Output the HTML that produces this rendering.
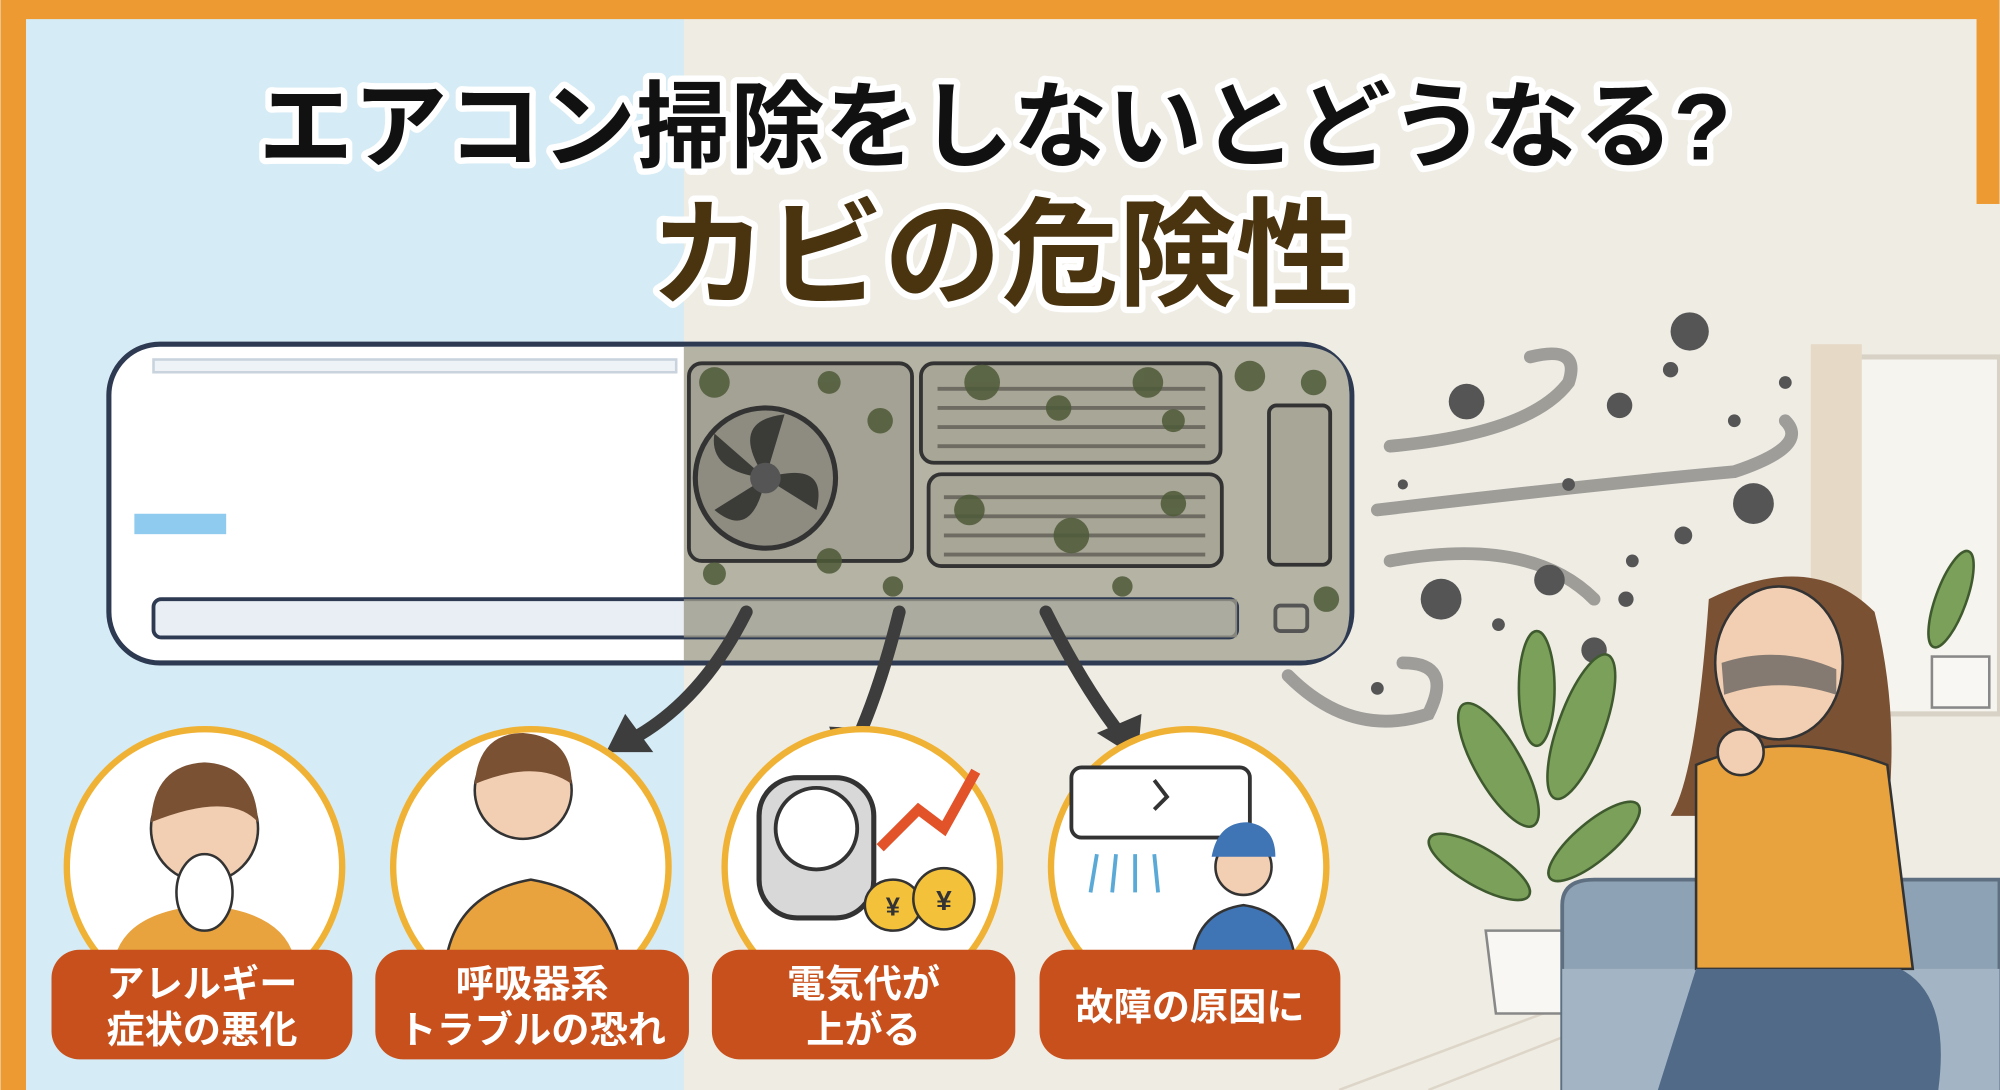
<!DOCTYPE html>
<html><head><meta charset="utf-8"><style>
html,body{margin:0;padding:0;width:2000px;height:1090px;overflow:hidden;background:#efece4}
svg{display:block}
text{font-family:"Liberation Sans","Noto Sans CJK JP",sans-serif;font-weight:bold}
</style></head><body>
<svg width="2000" height="1090" viewBox="0 0 1568 855" xmlns="http://www.w3.org/2000/svg">
<!-- backgrounds -->
<rect x="0" y="0" width="1568" height="855" fill="#efece4"/>
<rect x="0" y="0" width="536" height="855" fill="#d5ebf5"/>
<!-- orange frame -->
<rect x="0" y="0" width="1568" height="15" fill="#ee9a32"/>
<rect x="0" y="0" width="20" height="855" fill="#ee9a32"/>
<rect x="1550" y="0" width="18" height="160" fill="#ee9a32"/>
<!-- window & curtain -->
<rect x="1440" y="280" width="128" height="280" fill="#f6f4ee" stroke="#d8d2c6" stroke-width="4"/>
<rect x="1420" y="270" width="40" height="300" fill="#e6d9c6"/>
<!-- floor lines -->
<g stroke="#ddd6c8" stroke-width="2">
<line x1="1050" y1="855" x2="1250" y2="780"/><line x1="1120" y1="855" x2="1260" y2="800"/>
</g>
<!-- title -->
<text x="780" y="125" font-size="74" text-anchor="middle" fill="#111" stroke="#fff" stroke-width="10" paint-order="stroke" stroke-linejoin="round">エアコン掃除をしないとどうなる?</text>
<text x="785" y="232" font-size="92" text-anchor="middle" fill="#4a3410" stroke="#fff" stroke-width="10" paint-order="stroke" stroke-linejoin="round">カビの危険性</text>
<!-- AC unit -->
<rect x="85" y="270" width="975" height="250" rx="40" fill="#fff" stroke="#2d3a52" stroke-width="4"/>
<path d="M536 272 H1020 Q1058 272 1058 310 V480 Q1058 518 1020 518 H536 Z" fill="#b5b3a4"/>
<rect x="120" y="282" width="410" height="10" fill="#eef3f7" stroke="#c8d3dd" stroke-width="2"/>
<rect x="105" y="403" width="72" height="16" fill="#8ecbee"/>
<rect x="120" y="470" width="850" height="30" rx="6" fill="#e8eef3" stroke="#2d3a52" stroke-width="3"/>
<rect x="536" y="470" width="434" height="30" fill="#9c9a8a" opacity=".8"/>
<!-- fan -->
<rect x="540" y="285" width="175" height="155" rx="10" fill="#a4a294" stroke="#333" stroke-width="3"/>
<circle cx="600" cy="375" r="55" fill="#8e8c80" stroke="#333" stroke-width="4"/>
<g fill="#3b3b38"><path d="M600 375 Q570 330 615 325 Z"/><path d="M600 375 Q650 360 640 400 Z"/><path d="M600 375 Q590 425 560 400 Z"/><path d="M600 375 Q555 370 560 340 Z"/></g>
<circle cx="600" cy="375" r="12" fill="#555"/>
<!-- filters -->
<g fill="#a8a696" stroke="#333" stroke-width="3">
<rect x="722" y="285" width="235" height="78" rx="10"/>
<rect x="728" y="372" width="230" height="72" rx="10"/>
<rect x="995" y="318" width="48" height="125" rx="6"/>
</g>
<g stroke="#6e6c62" stroke-width="3">
<line x1="735" y1="305" x2="945" y2="305"/><line x1="735" y1="320" x2="945" y2="320"/><line x1="735" y1="335" x2="945" y2="335"/><line x1="735" y1="350" x2="945" y2="350"/>
<line x1="740" y1="390" x2="945" y2="390"/><line x1="740" y1="405" x2="945" y2="405"/><line x1="740" y1="420" x2="945" y2="420"/><line x1="740" y1="435" x2="945" y2="435"/>
</g>
<!-- mold spots -->
<g fill="#4e5a38" opacity=".85">
<circle cx="560" cy="300" r="12"/><circle cx="650" cy="300" r="9"/><circle cx="690" cy="330" r="10"/><circle cx="770" cy="300" r="14"/><circle cx="830" cy="320" r="10"/><circle cx="900" cy="300" r="12"/><circle cx="920" cy="330" r="9"/><circle cx="980" cy="295" r="12"/><circle cx="1030" cy="300" r="10"/><circle cx="760" cy="400" r="12"/><circle cx="840" cy="420" r="14"/><circle cx="920" cy="395" r="10"/><circle cx="650" cy="440" r="10"/><circle cx="700" cy="460" r="8"/><circle cx="1040" cy="470" r="10"/><circle cx="880" cy="460" r="8"/><circle cx="560" cy="450" r="9"/>
</g>
<rect x="1000" y="475" width="25" height="20" rx="4" fill="none" stroke="#555" stroke-width="3"/>
<!-- arrows -->
<g fill="none" stroke="#3d3d3d" stroke-width="10" stroke-linecap="round">
<path d="M585 480 Q550 550 495 580"/><path d="M705 480 Q690 540 672 580"/><path d="M820 480 Q850 540 880 578"/>
</g>
<g fill="#3d3d3d">
<polygon points="475,590 490,560 512,590"/><polygon points="660,600 650,570 690,572"/><polygon points="892,595 860,575 895,560"/>
</g>
<!-- mold cloud -->
<g fill="none" stroke="#8a8a86" stroke-width="10" stroke-linecap="round" opacity=".8">
<path d="M1090 350 Q1200 340 1230 300 Q1240 270 1200 280"/>
<path d="M1080 400 Q1250 380 1360 370 Q1420 350 1400 330"/>
<path d="M1090 440 Q1200 420 1250 470"/>
<path d="M1010 530 Q1060 580 1120 560 Q1140 520 1100 520"/>
</g>
<g fill="#555">
<circle cx="1150" cy="315" r="14"/><circle cx="1325" cy="260" r="15"/><circle cx="1270" cy="318" r="10"/><circle cx="1375" cy="395" r="16"/><circle cx="1130" cy="470" r="16"/><circle cx="1215" cy="455" r="12"/><circle cx="1250" cy="510" r="10"/><circle cx="1310" cy="290" r="6"/><circle cx="1230" cy="380" r="5"/><circle cx="1175" cy="490" r="5"/><circle cx="1275" cy="470" r="6"/><circle cx="1320" cy="420" r="7"/><circle cx="1400" cy="300" r="5"/><circle cx="1280" cy="440" r="5"/><circle cx="1080" cy="540" r="5"/><circle cx="1100" cy="380" r="4"/><circle cx="1360" cy="330" r="5"/>
</g>
<!-- plant -->
<g fill="#7aa05a" stroke="#3f5a2e" stroke-width="2">
<ellipse cx="1175" cy="600" rx="18" ry="55" transform="rotate(-30 1175 600)"/>
<ellipse cx="1240" cy="570" rx="18" ry="60" transform="rotate(20 1240 570)"/>
<ellipse cx="1160" cy="680" rx="15" ry="45" transform="rotate(-60 1160 680)"/>
<ellipse cx="1250" cy="660" rx="15" ry="45" transform="rotate(50 1250 660)"/>
<ellipse cx="1205" cy="540" rx="14" ry="45"/>
<ellipse cx="1530" cy="470" rx="12" ry="40" transform="rotate(20 1530 470)"/>
</g>
<path d="M1165 730 H1240 L1232 795 H1173 Z" fill="#f8f7f3" stroke="#888" stroke-width="2"/>
<rect x="1515" y="515" width="45" height="40" fill="#f8f7f3" stroke="#888" stroke-width="2"/>
<!-- sofa -->
<path d="M1225 855 V710 Q1225 690 1250 690 H1568 V855 Z" fill="#8ea2b5" stroke="#5d6f80" stroke-width="3"/>
<rect x="1225" y="760" width="343" height="95" fill="#a3b5c5"/>
<!-- woman -->
<path d="M1340 470 Q1330 610 1310 640 L1480 640 Q1490 560 1470 480 Q1420 430 1340 470Z" fill="#7b5134"/>
<ellipse cx="1395" cy="520" rx="50" ry="60" fill="#f2cfb3" stroke="#333" stroke-width="2"/>
<path d="M1350 520 Q1395 505 1440 525 L1440 545 Q1395 530 1352 545Z" fill="#555" opacity=".7"/>
<path d="M1330 600 Q1400 570 1480 600 L1500 760 H1330 Z" fill="#e8a23e" stroke="#333" stroke-width="2"/>
<path d="M1330 760 Q1300 855 1300 855 H1520 Q1530 780 1490 760Z" fill="#506a88"/>
<circle cx="1365" cy="590" r="18" fill="#f2cfb3" stroke="#333" stroke-width="2"/>
<!-- circles -->
<g fill="#fff" stroke="#f0b234" stroke-width="5">
<circle cx="160" cy="680" r="108"/><circle cx="416" cy="680" r="108"/><circle cx="676" cy="680" r="108"/><circle cx="932" cy="680" r="108"/>
</g>
<!-- icon 1 -->
<path d="M90 750 Q100 715 160 710 Q220 715 230 750Z" fill="#e8a23e"/>
<circle cx="160" cy="650" r="42" fill="#f2cfb3" stroke="#333" stroke-width="2"/>
<path d="M118 645 Q120 600 160 598 Q200 600 202 645 Q180 620 118 645Z" fill="#7b5134"/>
<ellipse cx="160" cy="700" rx="22" ry="30" fill="#fff" stroke="#333" stroke-width="2"/>
<!-- icon 2 -->
<path d="M350 750 Q360 700 416 690 Q475 700 485 750Z" fill="#e8a23e" stroke="#333" stroke-width="2"/>
<circle cx="410" cy="620" r="38" fill="#f2cfb3" stroke="#333" stroke-width="2"/>
<path d="M372 615 Q375 575 410 575 Q448 578 448 615 Q420 595 372 615Z" fill="#7b5134"/>
<!-- icon 3 -->
<rect x="595" y="610" width="90" height="110" rx="30" fill="#d8d8d8" stroke="#333" stroke-width="4"/>
<circle cx="640" cy="650" r="32" fill="#fff" stroke="#333" stroke-width="3"/>
<path d="M690 665 L720 635 L740 650 L765 605" fill="none" stroke="#e2532a" stroke-width="8"/>
<ellipse cx="700" cy="710" rx="22" ry="20" fill="#f3c23a" stroke="#333" stroke-width="2"/>
<ellipse cx="740" cy="705" rx="24" ry="24" fill="#f3c23a" stroke="#333" stroke-width="2"/>
<text x="700" y="718" font-size="20" text-anchor="middle" fill="#333">¥</text>
<text x="740" y="714" font-size="22" text-anchor="middle" fill="#333">¥</text>
<!-- icon 4 -->
<rect x="840" y="602" width="140" height="55" rx="8" fill="#fff" stroke="#333" stroke-width="3"/>
<path d="M905 612 L915 625 L905 635" fill="none" stroke="#333" stroke-width="3"/>
<g stroke="#5aa9d6" stroke-width="3"><line x1="860" y1="670" x2="855" y2="700"/><line x1="875" y1="670" x2="872" y2="700"/><line x1="890" y1="670" x2="890" y2="700"/><line x1="905" y1="670" x2="908" y2="700"/></g>
<path d="M935 750 Q940 715 975 710 Q1010 715 1015 750Z" fill="#3f74b5" stroke="#333" stroke-width="2"/>
<circle cx="975" cy="680" r="22" fill="#f2cfb3" stroke="#333" stroke-width="2"/>
<path d="M950 672 Q955 645 978 645 Q1000 648 1000 672Z" fill="#3f74b5"/>
<!-- labels -->
<g fill="#c8501c">
<rect x="40" y="745" width="236" height="86" rx="22"/>
<rect x="294" y="745" width="246" height="86" rx="22"/>
<rect x="558" y="745" width="238" height="86" rx="22"/>
<rect x="815" y="745" width="236" height="86" rx="22"/>
</g>
<g fill="#fff" font-size="30" text-anchor="middle">
<text x="158" y="782">アレルギー</text><text x="158" y="818">症状の悪化</text>
<text x="417" y="782">呼吸器系</text><text x="417" y="818">トラブルの恐れ</text>
<text x="677" y="782">電気代が</text><text x="677" y="818">上がる</text>
<text x="933" y="800">故障の原因に</text>
</g>
</svg>
</body></html>
